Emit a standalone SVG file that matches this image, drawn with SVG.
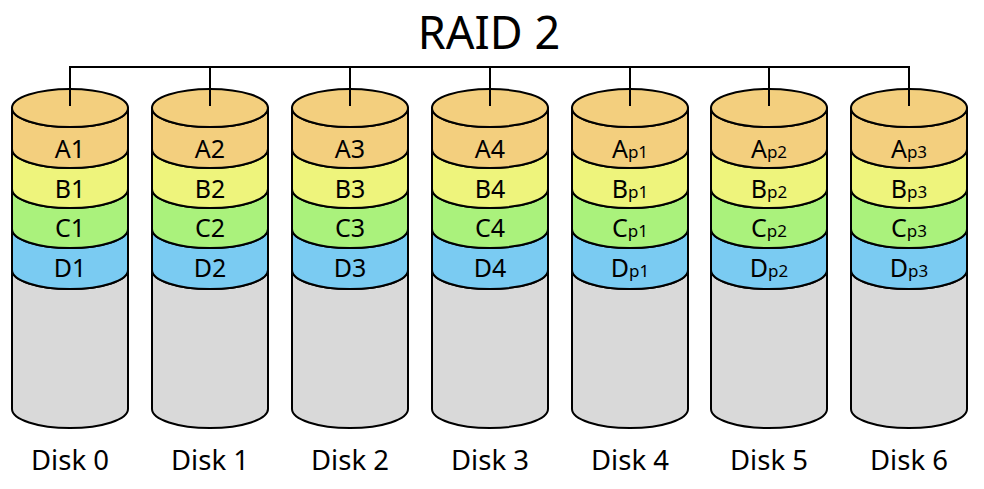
<svg xmlns="http://www.w3.org/2000/svg" width="984" height="489" viewBox="0 0 984 489">
<defs>
<style>
.s{stroke:#000;stroke-width:2;stroke-linejoin:round}
.a{fill:#F3CF7E}
.b{fill:#EEF47C}
.c{fill:#AAF27C}
.d{fill:#7ACBF2}
.g{fill:#D9D9D9}
.t{font-family:"Noto Sans","Open Sans","Liberation Sans",sans-serif;font-size:25px;fill:#000;text-anchor:middle}
.sub{font-size:17px}
.lbl{font-family:"Noto Sans","Open Sans","Liberation Sans",sans-serif;font-size:27.5px;fill:#000;text-anchor:middle}
.ttl{font-family:"Noto Sans","Open Sans","Liberation Sans",sans-serif;font-size:45px;fill:#000;text-anchor:middle}
</style>
<g id="cyl">
<path class="s g" d="M -58 270 A 58 19 0 0 0 58 270 L 58 409 A 58 19 0 0 1 -58 409 Z"/>
<path class="s d" d="M -58 229 A 58 19 0 0 0 58 229 L 58 270 A 58 19 0 0 1 -58 270 Z"/>
<path class="s c" d="M -58 189 A 58 19 0 0 0 58 189 L 58 229 A 58 19 0 0 1 -58 229 Z"/>
<path class="s b" d="M -58 149 A 58 19 0 0 0 58 149 L 58 189 A 58 19 0 0 1 -58 189 Z"/>
<path class="s a" d="M -58 108 A 58 19 0 0 0 58 108 L 58 149 A 58 19 0 0 1 -58 149 Z"/>
<ellipse class="s a" cx="0" cy="108" rx="58" ry="19"/>
</g>
</defs>
<text class="ttl" x="489" y="49">RAID 2</text>
<g id="disk0" transform="translate(70,0)">
<use href="#cyl"/>
<text class="t" x="0" y="158">A1</text><text class="t" x="0" y="198">B1</text><text class="t" x="0" y="237">C1</text><text class="t" x="0" y="277">D1</text>
<text class="lbl" x="0" y="470">Disk 0</text>
</g>
<g id="disk1" transform="translate(210,0)">
<use href="#cyl"/>
<text class="t" x="0" y="158">A2</text><text class="t" x="0" y="198">B2</text><text class="t" x="0" y="237">C2</text><text class="t" x="0" y="277">D2</text>
<text class="lbl" x="0" y="470">Disk 1</text>
</g>
<g id="disk2" transform="translate(350,0)">
<use href="#cyl"/>
<text class="t" x="0" y="158">A3</text><text class="t" x="0" y="198">B3</text><text class="t" x="0" y="237">C3</text><text class="t" x="0" y="277">D3</text>
<text class="lbl" x="0" y="470">Disk 2</text>
</g>
<g id="disk3" transform="translate(490,0)">
<use href="#cyl"/>
<text class="t" x="0" y="158">A4</text><text class="t" x="0" y="198">B4</text><text class="t" x="0" y="237">C4</text><text class="t" x="0" y="277">D4</text>
<text class="lbl" x="0" y="470">Disk 3</text>
</g>
<g id="disk4" transform="translate(630,0)">
<use href="#cyl"/>
<text class="t" x="0" y="158">A<tspan class="sub">p1</tspan></text><text class="t" x="0" y="198">B<tspan class="sub">p1</tspan></text><text class="t" x="0" y="237">C<tspan class="sub">p1</tspan></text><text class="t" x="0" y="277">D<tspan class="sub">p1</tspan></text>
<text class="lbl" x="0" y="470">Disk 4</text>
</g>
<g id="disk5" transform="translate(769,0)">
<use href="#cyl"/>
<text class="t" x="0" y="158">A<tspan class="sub">p2</tspan></text><text class="t" x="0" y="198">B<tspan class="sub">p2</tspan></text><text class="t" x="0" y="237">C<tspan class="sub">p2</tspan></text><text class="t" x="0" y="277">D<tspan class="sub">p2</tspan></text>
<text class="lbl" x="0" y="470">Disk 5</text>
</g>
<g id="disk6" transform="translate(909,0)">
<use href="#cyl"/>
<text class="t" x="0" y="158">A<tspan class="sub">p3</tspan></text><text class="t" x="0" y="198">B<tspan class="sub">p3</tspan></text><text class="t" x="0" y="237">C<tspan class="sub">p3</tspan></text><text class="t" x="0" y="277">D<tspan class="sub">p3</tspan></text>
<text class="lbl" x="0" y="470">Disk 6</text>
</g>
<g id="connectors" fill="none" stroke="#000" stroke-width="2">
<path d="M 69 67 H 910"/>
<path d="M 70 67 V 106 M 210 67 V 106 M 350 67 V 106 M 490 67 V 106 M 630 67 V 106 M 769 67 V 106 M 909 67 V 106"/>
</g>
</svg>
